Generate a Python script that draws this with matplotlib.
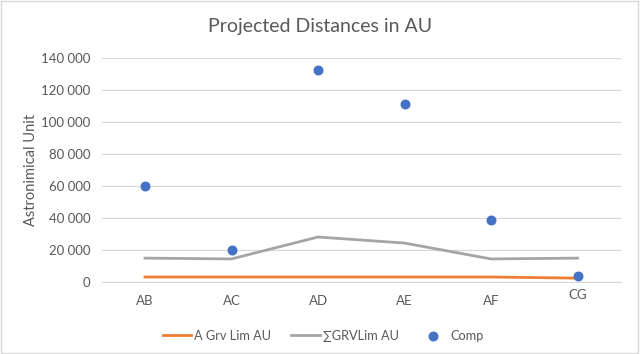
import matplotlib.pyplot as plt
from matplotlib.ticker import FuncFormatter
from matplotlib.patches import Rectangle

plt.rcParams['font.family'] = ['Lato', 'DejaVu Sans']

# 資料
categories = ['AB', 'AC', 'AD', 'AE', 'AF', 'CG']
a_grv_lim = [3200, 3200, 3200, 3200, 3200, 2500]
sum_grv_lim = [15000, 14500, 28200, 24400, 14500, 15000]
comp = [60000, 20000, 132500, 111500, 38800, 3700]

TXT = '#595959'
GRID = '#d9d9d9'

fig = plt.figure(figsize=(6.4, 3.54), dpi=100)
ax = fig.add_axes([0.159, 0.203, 0.811, 0.633])

x = list(range(len(categories)))
ax.plot(x, a_grv_lim, color='#ed7d31', lw=2.0, label='A Grv Lim AU', zorder=3)
ax.plot(x, sum_grv_lim, color='#a5a5a5', lw=2.0, label='\u2211GRVLim AU', zorder=3)
ax.scatter(x, comp, s=38, color='#4472c4', label='Comp', zorder=4)

ax.set_xlim(-0.5, len(categories) - 0.5)
ax.set_ylim(0, 140000)
ax.set_yticks(range(0, 140001, 20000))
ax.yaxis.set_major_formatter(FuncFormatter(lambda v, p: f'{int(v):,}'.replace(',', ' ')))
ax.set_xticks(x)
ax.set_xticklabels(categories)

ax.grid(axis='y', color=GRID, lw=0.9)
ax.set_axisbelow(True)
for s in ['top', 'right', 'left']:
    ax.spines[s].set_visible(False)
ax.spines['bottom'].set_color(GRID)
ax.tick_params(axis='both', length=0, colors=TXT, labelsize=9.5)
ax.tick_params(axis='x', pad=9)
ax.tick_params(axis='y', pad=8)
# CG 標籤位置略高
ax.get_xticklabels()[-1].set_y(0.025)

ax.set_ylabel('Astronimical Unit', color=TXT, fontsize=10.5, labelpad=2)
fig.text(0.5, 0.925, 'Projected Distances in AU', ha='center', va='center',
         color=TXT, fontsize=14)

leg = fig.legend(loc='center', bbox_to_anchor=(0.505, 0.052), ncol=3, frameon=False,
                 fontsize=9.2, handlelength=2.2, columnspacing=1.6, handletextpad=0.25)
for t in leg.get_texts():
    t.set_color(TXT)

fig.patches.append(Rectangle((0.002, 0.003), 0.995, 0.993, transform=fig.transFigure,
                             fill=False, edgecolor=GRID, lw=1))

fig.savefig('out.png', dpi=100)
